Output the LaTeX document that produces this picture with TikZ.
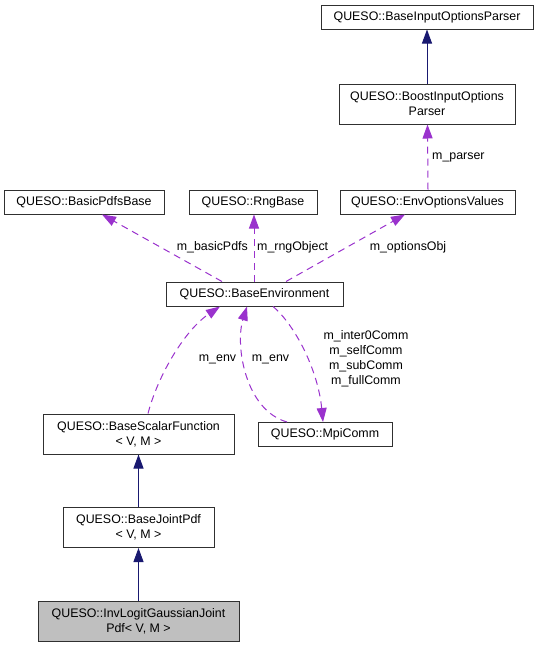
\documentclass[tikz,border=0pt]{standalone}
\usepackage{fontspec}
\setmainfont{Liberation Sans}
\usetikzlibrary{arrows.meta}
\definecolor{navyedge}{HTML}{191970}
\definecolor{purpedge}{HTML}{9A32CD}
\definecolor{boxline}{HTML}{303030}
\definecolor{grayfill}{HTML}{BFBFBF}
\begin{document}
\begin{tikzpicture}[x=1pt,y=-1pt,
  cls/.style={draw=boxline,line width=1pt,fill=white,inner sep=0pt,align=center,
    font=\fontsize{12.4}{15}\selectfont,text=black},
  lbl/.style={inner sep=0pt,align=center,font=\fontsize{12.4}{15}\selectfont,text=black},
  inherit/.style={draw=navyedge,line width=1pt,-{Triangle[length=14pt,width=10pt]},fill=navyedge},
  usage/.style={draw=purpedge,line width=1pt,dash pattern=on 7pt off 5pt,
    -{Triangle[length=14pt,width=10pt,fill=purpedge]}}]
\useasboundingbox (0,0) rectangle (541,648);
\node[cls,minimum width=212pt,minimum height=24pt] (bip) at (427,17) {QUESO::BaseInputOptionsParser};
\node[cls,minimum width=176pt,minimum height=40pt] (boost) at (427,104) {QUESO::BoostInputOptions\\Parser};
\node[cls,minimum width=175pt,minimum height=24pt] (env) at (427.5,202) {QUESO::EnvOptionsValues};
\node[cls,minimum width=160pt,minimum height=24pt] (bpb) at (84,202) {QUESO::BasicPdfsBase};
\node[cls,minimum width=128pt,minimum height=24pt] (rng) at (253,202) {QUESO::RngBase};
\node[cls,minimum width=177pt,minimum height=24pt] (benv) at (254.5,294) {QUESO::BaseEnvironment};
\node[cls,minimum width=191pt,minimum height=40pt] (bsf) at (138.5,434) {QUESO::BaseScalarFunction\\\textless{} V, M \textgreater};
\node[cls,minimum width=134pt,minimum height=24pt] (mpi) at (325,434.5) {QUESO::MpiComm};
\node[cls,minimum width=151pt,minimum height=40pt] (bjp) at (138.5,527.5) {QUESO::BaseJointPdf\\\textless{} V, M \textgreater};
\node[cls,fill=grayfill,minimum width=201pt,minimum height=40pt] (inv) at (138.5,621) {QUESO::InvLogitGaussianJoint\\Pdf\textless{} V, M \textgreater};
% inheritance
\draw[inherit] (boost.north) -- (bip.south);
\draw[inherit] (bjp.north) -- (bsf.south);
\draw[inherit] (inv.north) -- (bjp.south);
% usage
\draw[usage] ([xshift=0.5pt]env.north) -- ([xshift=0.5pt]boost.south);
\draw[usage] ([xshift=-32.5pt]benv.north) -- ([xshift=18pt]bpb.south);
\draw[usage] ([xshift=-0.5pt]benv.north) -- ([xshift=1pt]rng.south);
\draw[usage] ([xshift=31.5pt]benv.north) -- ([xshift=-22.5pt]env.south);
\draw[usage] ([xshift=9.5pt]bsf.north) .. controls (158,375) and (185,330) .. ([xshift=-34.5pt]benv.south);
\draw[usage] ([xshift=-38pt]mpi.north) .. controls (245,410) and (235,345) .. ([xshift=-7.5pt]benv.south);
\draw[usage] ([xshift=18.5pt]benv.south) .. controls (295,325) and (318,370) .. ([xshift=-2pt]mpi.north);
% labels
\node[lbl,anchor=west] (lparser) at (432,157) {m\_parser};
\node[lbl,anchor=east] (lbasic) at (248,247) {m\_basicPdfs};
\node[lbl,anchor=west] (lrng) at (257,247) {m\_rngObject};
\node[lbl] (lopt) at (408,247) {m\_optionsObj};
\node[lbl] (lenv1) at (217.5,359) {m\_env};
\node[lbl] (lenv2) at (270.5,359) {m\_env};
\node[lbl] (lcomm) at (366,358.5) {m\_inter0Comm\\m\_selfComm\\m\_subComm\\m\_fullComm};
\end{tikzpicture}
\end{document}
